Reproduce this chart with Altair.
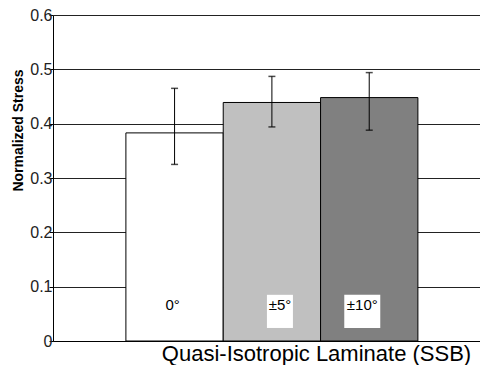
import altair as alt
import pandas as pd

categories = ["0°", "±5°", "±10°"]
means = [0.383, 0.439, 0.448]
err_low = [0.325, 0.394, 0.388]
err_high = [0.465, 0.487, 0.494]
colors = ["#ffffff", "#c0c0c0", "#808080"]
label_y = [0.066, 0.066, 0.066]
label_shift = [46.7, 56.7, 41.7]
box_low = [None, 0.024, 0.024]
box_high = [None, 0.085, 0.085]
box_w = [0, 26, 36]

df = pd.DataFrame({
    "cat": categories, "mean": means, "lo": err_low, "hi": err_high,
    "color": colors, "ly": label_y, "blo": box_low, "bhi": box_high, "bw": box_w,
    "sh": label_shift,
})

FONT = "Liberation Sans"
xenc = alt.X("cat:N", sort=categories,
             scale=alt.Scale(paddingInner=0, paddingOuter=0.6935, align=0.54),
             axis=alt.Axis(labels=False, ticks=False, domain=True, domainColor="#000",
                           title="Quasi-Isotropic Laminate (SSB)", titleFont=FONT,
                           titleFontSize=22, titleFontWeight="normal", titleColor="#000",
                           titleX=263, titleY=19, titleBaseline="alphabetic",
                           titleAlign="center"))

yscale = alt.Scale(domain=[0, 0.6], nice=False)

bars = alt.Chart(df).mark_bar(stroke="#000", strokeWidth=1).encode(
    x=xenc,
    y=alt.Y("mean:Q", scale=yscale,
            axis=alt.Axis(values=[0, 0.1, 0.2, 0.3, 0.4, 0.5, 0.6],
                          labelExpr="datum.value == 0 ? '0' : format(datum.value, '.1f')",
                          labelFont=FONT, labelFontSize=16, labelColor="#222",
                          labelPadding=-3, tickSize=4, tickColor="#000",
                          domainColor="#000", grid=True, gridColor="#222",
                          gridWidth=1, gridOpacity=1,
                          title="Normalized Stress", titleFont=FONT, titleFontSize=14,
                          titleFontWeight="bold", titleColor="#000",
                          titleX=-35, titleY=115, titleAngle=-90,
                          titleAlign="center", titleBaseline="middle")),
    fill=alt.Fill("color:N", scale=None),
)

boxes = alt.Chart(df).transform_filter("datum.bw > 0").mark_bar(fill="white", strokeWidth=0).encode(
    x=alt.X("cat:N", sort=categories),
    xOffset=alt.XOffset("sh:Q", scale=None),
    y=alt.Y("blo:Q", scale=yscale),
    y2="bhi:Q",
    size=alt.Size("bw:Q", scale=None),
)

labels = alt.Chart(df).mark_text(font=FONT, fontSize=15, color="#000").encode(
    x=alt.X("cat:N", sort=categories),
    xOffset=alt.XOffset("sh:Q", scale=None),
    y=alt.Y("ly:Q", scale=yscale),
    text="cat:N",
)

rules = alt.Chart(df).mark_rule(color="#000", strokeWidth=1).encode(
    x=alt.X("cat:N", sort=categories),
    y=alt.Y("lo:Q", scale=yscale),
    y2="hi:Q",
)
cap_lo = alt.Chart(df).mark_tick(color="#000", thickness=1.5, size=7, orient="horizontal").encode(
    x=alt.X("cat:N", sort=categories),
    y=alt.Y("lo:Q", scale=yscale),
)
cap_hi = alt.Chart(df).mark_tick(color="#000", thickness=1.5, size=7, orient="horizontal").encode(
    x=alt.X("cat:N", sort=categories),
    y=alt.Y("hi:Q", scale=yscale),
)

chart = alt.layer(bars, boxes, labels, rules, cap_lo, cap_hi).properties(
    width=427, height=326,
    padding={"left": 45, "top": 7, "right": 0, "bottom": 24},
    autosize=alt.AutoSizeParams(type="none"),
    background="white",
).configure_view(stroke=None)

chart.save("out.html", embed_options={"renderer": "svg", "actions": False})
